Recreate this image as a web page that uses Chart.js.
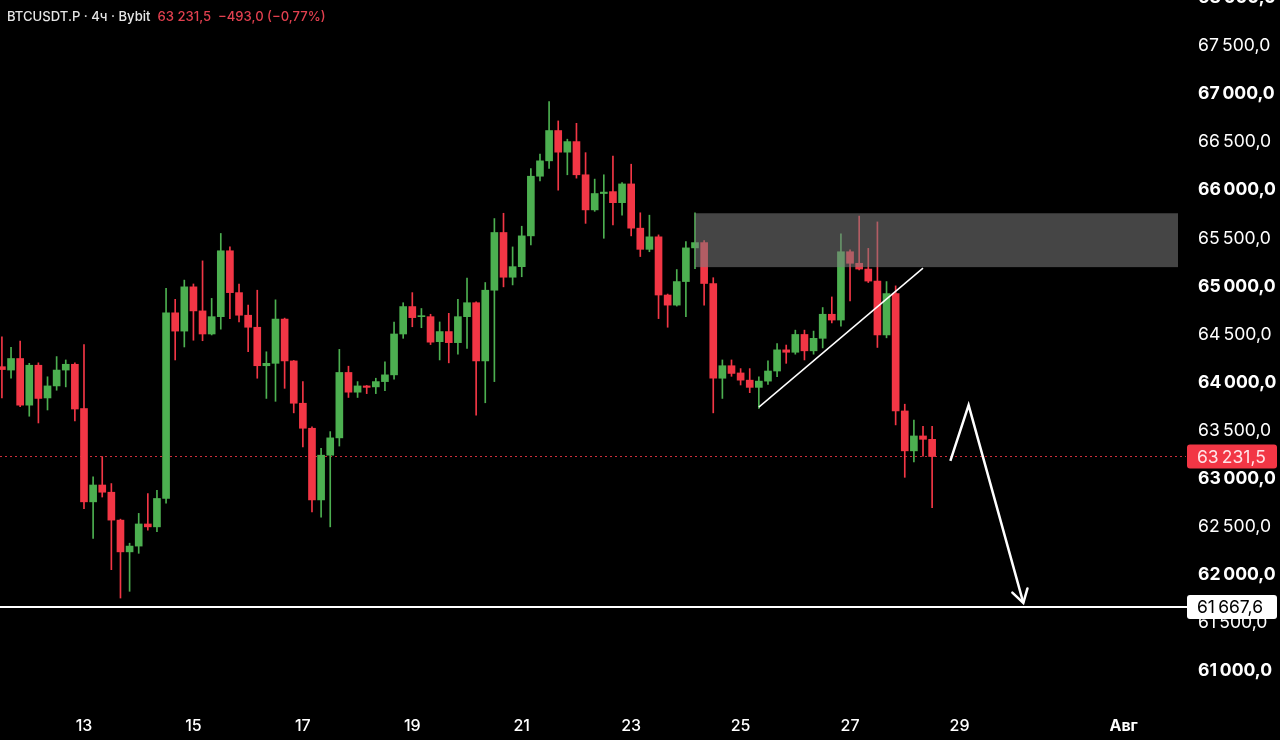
<!DOCTYPE html>
<html>
<head>
<meta charset="utf-8">
<script src="https://cdn.jsdelivr.net/npm/chart.js@4.4.1/dist/chart.umd.min.js"></script>
<style>
  html, body { margin: 0; padding: 0; background: #000; }
  #wrap { position: relative; width: 1280px; height: 740px; }
  #hdr { position: absolute; left: 7px; top: 8px; font: 500 13.1px Inter, sans-serif; color: #e6e6e6; white-space: pre; }
  #hdr .r { color: #e2404f; }
</style>
</head>
<body>
<div id="wrap">
  <canvas id="chart"></canvas>
  <div id="hdr">BTCUSDT.P · 4ч · Bybit  <span class="r">63 231,5  −493,0 (−0,77%)</span></div>
</div>
<script>
// candle slots are 4h steps counted from 13 Jul 00:00, first visible candle is 9 slots earlier
const firstSlot = -9;

const opens = [
  64165, 64130, 64250, 63765, 64180, 63840, 63965, 64130, 64190,
  63730, 62760, 62935, 62860, 62570, 62240, 62300, 62530, 62500, 62795,
  64725, 64535, 64995, 64745, 64505, 64685, 65370, 64935, 64700, 64575,
  64175, 64200, 64660, 64225, 63785, 63525, 62780, 63245, 63425, 64105,
  63900, 63965, 63955, 64010, 64080, 64505, 64790, 64685, 64685, 64425,
  64530, 64415, 64685, 64830, 64225, 64960, 65560, 65095, 65205, 65525,
  66145, 66305, 66620, 66395, 66505, 66160, 65795, 65965, 65985, 65870,
  66065, 65605, 65385, 65515, 64910, 64805, 65050, 65400, 65455, 65030,
  64045, 64175, 64100, 64025, 63950, 64015, 64120, 64340, 64315, 64500,
  64330, 64460, 64710, 64650, 65360, 65240, 65180, 65055, 64495, 64925,
  63705, 63290, 63445, 63410
];
const highs = [
  64475, 64365, 64430, 64200, 64205, 64060, 64270, 64235, 64205,
  64395, 63020, 63230, 62950, 62580, 62330, 62640, 62845, 62880, 64980,
  64865, 65065, 65025, 65265, 64875, 65550, 65410, 65025, 64805, 64960,
  64320, 64860, 64670, 64230, 64010, 63540, 63315, 63490, 64345, 64170,
  64010, 63970, 64045, 64215, 64630, 64830, 64935, 64770, 64710, 64630,
  64720, 64865, 65085, 64840, 65040, 65705, 65760, 65410, 65625, 66225,
  66375, 66920, 66720, 66530, 66695, 66390, 66115, 66160, 66355, 66080,
  66270, 65765, 65740, 65535, 64920, 65175, 65465, 65765, 65475, 65090,
  64235, 64235, 64145, 64145, 64060, 64225, 64405, 64390, 64545, 64545,
  64535, 64780, 64890, 65545, 65380, 65730, 65395, 65670, 65050, 65005,
  63775, 63610, 63545, 63545
];
const lows = [
  63840, 64045, 63750, 63650, 63580, 63715, 63920, 63955, 63600,
  62690, 62380, 62810, 62055, 61760, 61830, 62225, 62465, 62450, 62745,
  64235, 64370, 64440, 64435, 64495, 64555, 64665, 64630, 64320, 64045,
  63835, 63805, 63940, 63685, 63330, 62655, 62600, 62500, 63340, 63845,
  63845, 63885, 63885, 63915, 64035, 64460, 64580, 64570, 64395, 64235,
  64205, 64295, 64355, 63660, 63790, 64010, 64995, 65015, 65100, 65430,
  66095, 66225, 66000, 66160, 66125, 65655, 65780, 65500, 65640, 65740,
  65525, 65310, 65360, 64665, 64575, 64795, 64685, 65185, 64805, 63685,
  63835, 64065, 63975, 63895, 63730, 63980, 64060, 64200, 64295, 64235,
  64295, 64360, 64620, 64585, 64850, 65170, 65040, 64365, 64465, 63560,
  63015, 63175, 63235, 62700
];
const closes = [
  64135, 64250, 63765, 64180, 63835, 63965, 64130, 64190, 63725,
  62760, 62935, 62860, 62570, 62240, 62300, 62530, 62500, 62795, 64725,
  64535, 64995, 64745, 64505, 64685, 65370, 64935, 64700, 64575, 64175,
  64200, 64660, 64225, 63785, 63525, 62780, 63245, 63425, 64105, 63900,
  63965, 63950, 64010, 64080, 64505, 64790, 64675, 64685, 64420, 64530,
  64415, 64685, 64830, 64225, 64960, 65560, 65095, 65205, 65525, 66145,
  66305, 66620, 66395, 66505, 66160, 65795, 65965, 65980, 65870, 66065,
  65605, 65385, 65515, 64910, 64805, 65050, 65400, 65455, 65030, 64045,
  64175, 64095, 64025, 63950, 64015, 64120, 64340, 64315, 64500, 64330,
  64460, 64710, 64650, 65360, 65240, 65180, 65055, 64495, 64925, 63705,
  63290, 63445, 63410, 63231.5
];

const dayTicks = [0, 12, 24, 36, 48, 60, 72, 84, 96, 114];
const dayLabels = ['13', '15', '17', '19', '21', '23', '25', '27', '29', 'Авг'];
const priceTicks = [61000, 61500, 62000, 62500, 63000, 63500, 64000, 64500,
  65000, 65500, 66000, 66500, 67000, 67500, 68000];

const lastPrice = 63231.5;
const targetLevel = 61667.6;

// drawings on the chart, in slot / price units
const zoneFrom = 67;
const zoneTop = 65760;
const zoneBottom = 65200;
const trendX = [74, 92];
const trendY = [63745, 65190];
const arrowX = [95, 97, 103];
const arrowY = [63185, 63765, 61710];

const GREEN = '#4caf50';
const RED = '#f23645';

function fmtPrice(v) {
  const parts = v.toFixed(1).split('.');
  const int = parts[0].replace(/\B(?=(\d{3})+(?!\d))/g, '\u202F');
  return int + ',' + parts[1];
}

const bodies = opens.map((o, k) => ({ x: k + firstSlot, y: [o, closes[k]] }));
const wicks = lows.map((l, k) => ({ x: k + firstSlot, y: [l, highs[k]] }));
const candleColor = ctx => closes[ctx.dataIndex] >= opens[ctx.dataIndex] ? GREEN : RED;

const drawings = {
  id: 'drawings',
  beforeDatasetsDraw(chart) {
    const { ctx, chartArea: a, scales: { y } } = chart;
    const py = Math.round(y.getPixelForValue(lastPrice)) + 0.5;
    ctx.save();
    ctx.strokeStyle = 'rgba(242,54,69,0.85)';
    ctx.lineWidth = 1;
    ctx.setLineDash([2, 3]);
    ctx.beginPath();
    ctx.moveTo(a.left, py);
    ctx.lineTo(a.right + 6, py);
    ctx.stroke();
    ctx.restore();
  },
  afterDatasetsDraw(chart) {
    const { ctx, chartArea: a, scales: { x, y } } = chart;
    ctx.save();
    // resistance zone
    const zx = x.getPixelForValue(zoneFrom);
    const zt = y.getPixelForValue(zoneTop);
    const zb = y.getPixelForValue(zoneBottom);
    ctx.fillStyle = 'rgba(125,125,125,0.55)';
    ctx.fillRect(zx, zt, a.right - 2 - zx, zb - zt);

    // target level
    const ly = y.getPixelForValue(targetLevel);
    ctx.strokeStyle = '#fff';
    ctx.lineWidth = 2;
    ctx.beginPath();
    ctx.moveTo(a.left, ly);
    ctx.lineTo(a.right + 8, ly);
    ctx.stroke();

    // arrow head
    const n = arrowX.length;
    const tx = x.getPixelForValue(arrowX[n - 1]), ty = y.getPixelForValue(arrowY[n - 1]);
    const sx = x.getPixelForValue(arrowX[n - 2]), sy = y.getPixelForValue(arrowY[n - 2]);
    const ang = Math.atan2(ty - sy, tx - sx);
    const len = 15;
    ctx.lineWidth = 2.5;
    ctx.lineCap = 'round';
    ctx.beginPath();
    ctx.moveTo(tx - len * Math.cos(ang - 0.55), ty - len * Math.sin(ang - 0.55));
    ctx.lineTo(tx, ty);
    ctx.lineTo(tx - len * Math.cos(ang + 0.55), ty - len * Math.sin(ang + 0.55));
    ctx.stroke();
    ctx.restore();
  },
  afterDraw(chart) {
    const { ctx, chartArea: a, scales: { y } } = chart;
    const badge = (value, bg, fg) => {
      const cy = y.getPixelForValue(value);
      ctx.fillStyle = bg;
      ctx.beginPath();
      ctx.roundRect(a.right + 7, cy - 12, 90, 24, 3);
      ctx.fill();
      ctx.fillStyle = fg;
      ctx.font = '17.5px Inter';
      ctx.textAlign = 'left';
      ctx.textBaseline = 'middle';
      ctx.fillText(fmtPrice(value), a.right + 17, cy + 1);
    };
    ctx.save();
    badge(lastPrice, RED, '#ffe4e8');
    badge(targetLevel, '#fff', '#000');
    ctx.restore();
  }
};

Chart.defaults.font.family = 'Inter';

new Chart(document.getElementById('chart'), {
  type: 'bar',
  data: {
    datasets: [
      {
        data: wicks,
        backgroundColor: candleColor,
        barThickness: 1,
        grouped: false,
        order: 2
      },
      {
        data: bodies,
        backgroundColor: candleColor,
        barThickness: 7,
        minBarLength: 1,
        grouped: false,
        order: 1
      },
      {
        type: 'line',
        data: trendX.map((v, i) => ({ x: v, y: trendY[i] })),
        borderColor: '#fff',
        borderWidth: 1.5,
        pointRadius: 0,
        tension: 0,
        order: 0
      },
      {
        type: 'line',
        data: arrowX.map((v, i) => ({ x: v, y: arrowY[i] })),
        borderColor: '#fff',
        borderWidth: 2.5,
        pointRadius: 0,
        tension: 0,
        order: 0
      }
    ]
  },
  options: {
    responsive: true,
    maintainAspectRatio: false,
    animation: false,
    layout: { padding: 0 },
    plugins: { legend: { display: false }, tooltip: { enabled: false } },
    scales: {
      x: {
        type: 'linear',
        min: -9.21,
        max: 120.18,
        offset: false,
        grid: { display: false },
        border: { display: false },
        ticks: {
          autoSkip: false,
          maxRotation: 0,
          color: '#fff',
          padding: 9,
          font: c => ({ size: 16, weight: c.tick && c.tick.value === 114 ? 'bold' : '500' }),
          callback: v => {
            const i = dayTicks.indexOf(v);
            return i < 0 ? '' : dayLabels[i];
          }
        },
        afterBuildTicks: s => { s.ticks = dayTicks.map(v => ({ value: v })); },
        afterFit: s => { s.height = 40; s.paddingLeft = 0; s.paddingRight = 0; }
      },
      y: {
        type: 'linear',
        position: 'right',
        min: 60700,
        max: 67977,
        grid: { display: false, drawTicks: false },
        border: { display: false },
        ticks: {
          includeBounds: false,
          autoSkip: false,
          color: '#fff',
          padding: 18,
          crossAlign: 'near',
          font: c => ({ size: 17.6, weight: c.tick && c.tick.value % 1000 === 0 ? 'bold' : 'normal' }),
          callback: v => fmtPrice(v)
        },
        afterBuildTicks: s => { s.ticks = priceTicks.map(v => ({ value: v })); },
        afterFit: s => { s.width = 100; s.paddingTop = 0; s.paddingBottom = 0; }
      }
    }
  },
  plugins: [drawings]
});
</script>
</body>
</html>
